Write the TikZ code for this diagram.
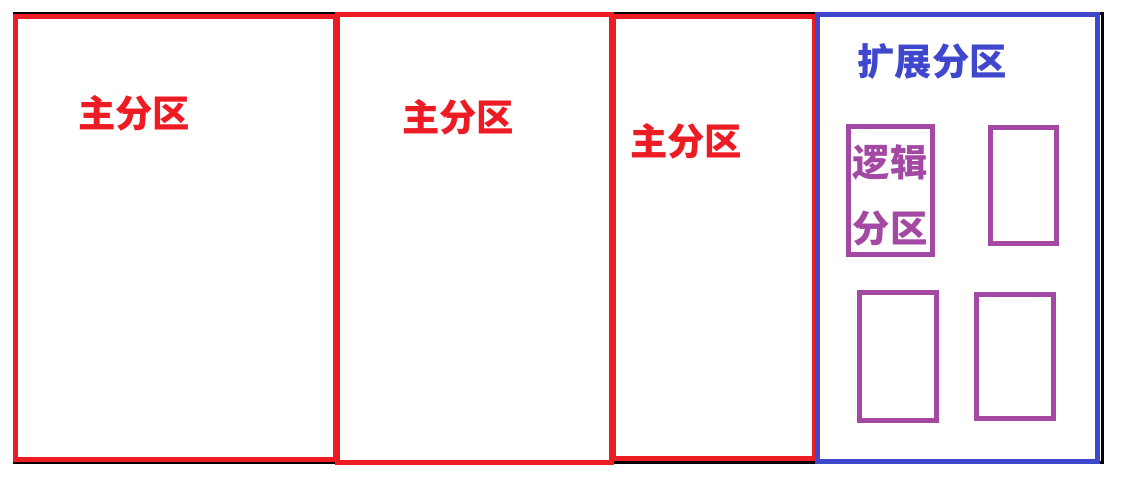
\documentclass[tikz,border=0pt]{standalone}
\usepackage{fontspec}
\newfontfamily\cjk{Noto Sans CJK SC}
\definecolor{partred}{RGB}{237,28,36}
\definecolor{partblue}{RGB}{63,72,204}
\definecolor{partpurple}{RGB}{163,73,164}
\tikzset{every picture/.style={line width=0.75pt}}
\begin{document}
\begin{tikzpicture}[x=0.75pt,y=0.75pt,yscale=-1,xscale=1]
\path[use as bounding box] (0,0) rectangle (1124,477);

%Shape: Rectangle [frame]
\draw [color=black, line width=2.25] (14,13.5) rectangle (1102,462.5) ;
%Shape: Rectangle [primary 1]
\draw [color=partred, line width=3.75] (15.3,16.5) rectangle (335.5,459.5) ;
%Shape: Rectangle [primary 3]
\draw [color=partred, line width=3.75] (613.5,17) rectangle (814.5,458.5) ;
%Shape: Rectangle [primary 2]
\draw [color=partred, line width=3.75] (337.5,14.5) rectangle (611.5,462) ;
%Shape: Rectangle [extended]
\draw [color=partblue, line width=3.75] (817.5,14.5) rectangle (1097.5,461.5) ;
%Shape: Rectangle [logical 1]
\draw [color=partpurple, line width=3.75] (848.3,126.5) rectangle (932.7,255) ;
%Shape: Rectangle [logical 2]
\draw [color=partpurple, line width=3.75] (990.5,127.5) rectangle (1056.5,244) ;
%Shape: Rectangle [logical 3]
\draw [color=partpurple, line width=3.75] (859.5,292.5) rectangle (936.5,420) ;
%Shape: Rectangle [logical 4]
\draw [color=partpurple, line width=3.75] (976.5,294.5) rectangle (1053.5,418) ;

% Text Node
\draw (134,113) node [inner sep=0.75pt] [font=\cjk\bfseries\fontsize{28}{32}\selectfont, color=partred] (prim1) {主分区};
% Text Node
\draw (458,117) node [inner sep=0.75pt] [font=\cjk\bfseries\fontsize{28}{32}\selectfont, color=partred] (prim2) {主分区};
% Text Node
\draw (686,141) node [inner sep=0.75pt] [font=\cjk\bfseries\fontsize{28}{32}\selectfont, color=partred] (prim3) {主分区};
% Text Node
\draw (932,61) node [inner sep=0.75pt] [font=\cjk\bfseries\fontsize{28}{32}\selectfont, color=partblue] (ext) {扩展分区};
% Text Node
\draw (890,195) node [inner sep=0.75pt] [font=\cjk\bfseries\fontsize{28}{49.5}\selectfont, color=partpurple] [align=center] (logic) {逻辑\\分区};

\end{tikzpicture}
\end{document}
